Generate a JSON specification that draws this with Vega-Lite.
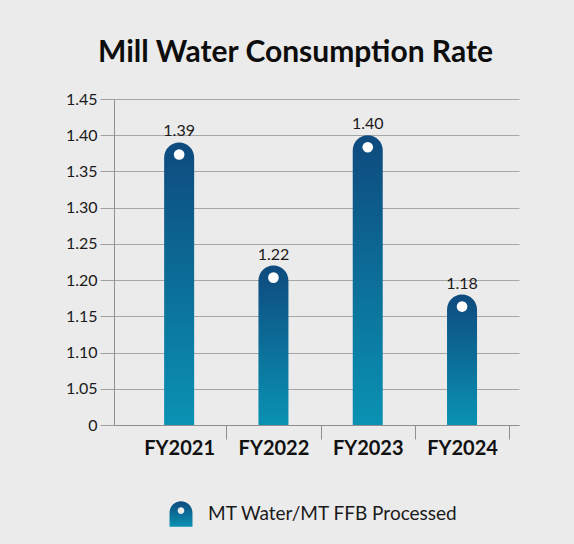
{
  "$schema": "https://vega.github.io/schema/vega-lite/v6.json",
  "autosize": {"type": "none"},
  "width": 405,
  "height": 326,
  "padding": {"left": 114, "top": 99, "right": 55, "bottom": 119},
  "background": "#ebebeb",
  "config": {
    "view": {"stroke": null},
    "font": "Lato"
  },
  "title": {
    "text": "Mill Water Consumption Rate",
    "font": "Lato",
    "fontSize": 30,
    "fontWeight": "bold",
    "color": "#0d0d0d",
    "anchor": "middle",
    "frame": "group",
    "dx": -21,
    "offset": 23
  },
  "data": {
    "values": [
      {"year": "FY2021", "value": 1.39},
      {"year": "FY2022", "value": 1.22},
      {"year": "FY2023", "value": 1.40},
      {"year": "FY2024", "value": 1.18}
    ]
  },
  "encoding": {
    "x": {
      "field": "year",
      "type": "nominal",
      "sort": null,
      "scale": {"type": "band", "paddingInner": 0, "paddingOuter": 0.1475, "align": 0.647},
      "axis": {
        "title": null,
        "labelAngle": 0,
        "labelFont": "Lato",
        "labelFontSize": 20,
        "labelFontWeight": "bold",
        "labelColor": "#111111",
        "labelPadding": -1,
        "tickBand": "extent",
        "tickSize": 14,
        "tickColor": "#8f8f8f",
        "tickOpacity": {"condition": {"test": "datum.value == null", "value": 0}, "value": 1},
        "domainColor": "#8f8f8f",
        "grid": false
      }
    },
    "y": {
      "field": "value",
      "type": "quantitative",
      "scale": {"domain": [1, 1.45], "zero": false, "nice": false},
      "axis": {
        "title": null,
        "values": [1, 1.05, 1.1, 1.15, 1.2, 1.25, 1.3, 1.35, 1.4, 1.45],
        "labelExpr": "datum.value == 1 ? '0' : format(datum.value, '.2f')",
        "labelFont": "Lato",
        "labelFontSize": 16,
        "labelColor": "#1a1a1a",
        "labelPadding": 3,
        "tickSize": 14,
        "tickColor": "#a0a0a0",
        "gridColor": "#a6a6a6",
        "domainColor": "#8f8f8f"
      }
    }
  },
  "layer": [
    {
      "mark": {
        "type": "bar", "size": 30, "cornerRadiusTopLeft": 15, "cornerRadiusTopRight": 15,
        "color": {"gradient": "linear", "x1": 0, "y1": 0, "x2": 0, "y2": 1,
                  "stops": [{"offset": 0, "color": "#0e4a7e"}, {"offset": 1, "color": "#0a92b3"}]}
      },
      "encoding": {
        "y2": {"datum": 1},
        "opacity": {
          "datum": "MT Water/MT FFB Processed",
          "type": "nominal",
          "scale": {"type": "ordinal", "range": [1]},
          "legend": {
            "title": null,
            "orient": "none",
            "legendX": 54,
            "legendY": 402,
            "symbolType": "M-0.9,1L-0.9,-0.1A0.9,0.9 0 0 1 0.9,-0.1L0.9,1ZM0,-0.52A0.26,0.26 0 1 0 0,0A0.26,0.26 0 1 0 0,-0.52Z",
            "symbolSize": 650,
            "symbolStrokeWidth": 0,
            "labelFont": "Lato",
            "labelFontSize": 19,
            "labelColor": "#1a1a1a",
            "labelOffset": 14,
            "labelLimit": 500
          }
        }
      }
    },
    {
      "mark": {"type": "point", "shape": "circle", "filled": true, "color": "#ffffff", "opacity": 1, "size": 113, "yOffset": 12},
      "encoding": {}
    },
    {
      "mark": {"type": "text", "font": "Lato", "fontSize": 16, "color": "#1a1a1a", "baseline": "alphabetic", "dy": -6},
      "encoding": {
        "text": {"field": "value", "type": "quantitative", "format": ".2f"}
      }
    }
  ]
}
